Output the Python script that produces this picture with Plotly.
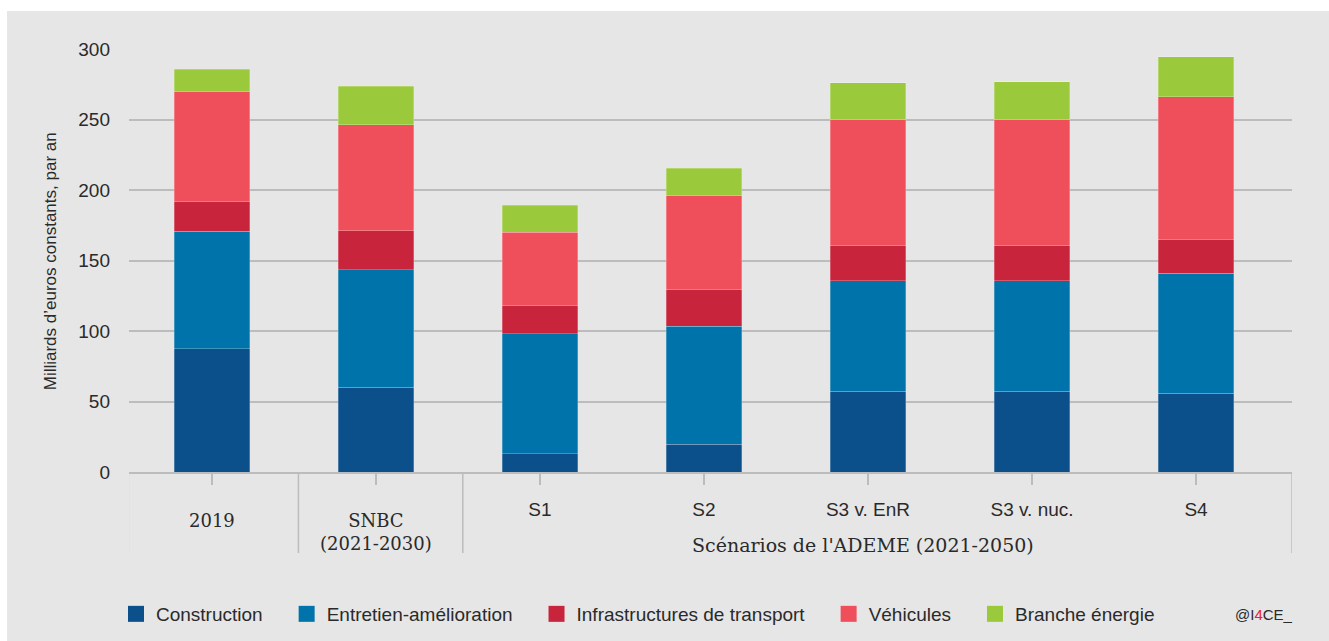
import plotly.graph_objects as go

categories = ["2019", "SNBC", "S1", "S2", "S3 v. EnR", "S3 v. nuc.", "S4"]
tick_labels = ["", "", "S1", "S2", "S3 v. EnR", "S3 v. nuc.", "S4"]

construction = [87.4, 60.1, 13.0, 19.6, 57.2, 57.2, 55.8]
entretien = [83.3, 83.4, 85.1, 83.9, 78.3, 78.3, 85.1]
infrastructures = [21.0, 27.6, 20.1, 25.8, 25.0, 25.0, 24.1]
vehicules = [78.0, 75.2, 52.0, 66.7, 89.4, 89.4, 101.0]
energie = [15.9, 27.2, 18.9, 19.6, 26.0, 26.7, 28.5]

series = [
    ("Construction", construction, "#0b4f8b"),
    ("Entretien-amélioration", entretien, "#0074aa"),
    ("Infrastructures de transport", infrastructures, "#c8243c"),
    ("Véhicules", vehicules, "#ef4f5b"),
    ("Branche énergie", energie, "#9bc93c"),
]

SANS = "Liberation Sans, Arial, sans-serif"
SERIF = "DejaVu Serif, serif"
TXT = "#2a2a2a"
GRID = "#bcbcbc"
PAD = "\u2002\u2002"

fig = go.Figure()
for i, (name, vals, col) in enumerate(series):
    fig.add_trace(go.Bar(
        x=categories, y=vals, name=name,
        marker=dict(color=col, line=dict(color="rgba(255,255,255,0.3)", width=0.8)),
        showlegend=False,
    ))
    # legend proxy with larger square symbol
    label = name + (PAD if i < len(series) - 1 else "")
    fig.add_trace(go.Scatter(
        x=[None], y=[None], mode="markers", name=label,
        marker=dict(symbol="square", size=16, color=col),
        showlegend=True,
    ))

shapes = [
    dict(type="rect", xref="paper", yref="paper", x0=-0.1049, x1=1.05, y0=-0.45, y1=1.0898,
         fillcolor="#e6e6e6", line=dict(width=0), layer="below"),
]
for xd in [-0.509, 0.528, 1.530, 6.585]:
    shapes.append(dict(type="line", xref="x", yref="paper", x0=xd, x1=xd, y0=0, y1=-0.1915,
                       line=dict(color=GRID, width=1.5), layer="below"))

annotations = [
    dict(text="2019", x=0, xref="x", y=-0.1135, yref="paper", showarrow=False,
         xanchor="center", yanchor="middle", font=dict(family=SERIF, size=18, color=TXT)),
    dict(text="SNBC<br>(2021-2030)", x=1, xref="x", y=-0.1407, yref="paper", showarrow=False,
         xanchor="center", yanchor="middle", font=dict(family=SERIF, size=18, color=TXT)),
    dict(text="Scénarios de l'ADEME (2021-2050)", x=3.97, xref="x", y=-0.1726, yref="paper",
         showarrow=False, xanchor="center", yanchor="middle",
         font=dict(family=SERIF, size=19, color=TXT)),
    dict(text="Milliards d’euros constants, par an", x=-0.0680, xref="paper", y=0.498, yref="paper",
         textangle=-90, showarrow=False, xanchor="center", yanchor="middle",
         font=dict(family=SANS, size=17, color=TXT)),
    dict(text="@I<span style='color:#e8202a'>4</span>CE_", x=1.003, xref="paper", y=-0.3357,
         yref="paper", showarrow=False, xanchor="right", yanchor="middle",
         font=dict(family=SANS, size=15, color=TXT)),
]

fig.update_layout(
    width=1329, height=641,
    margin=dict(l=129, r=37, t=49, b=169, autoexpand=False),
    paper_bgcolor="white", plot_bgcolor="#e6e6e6",
    barmode="stack", bargap=0.539,
    font=dict(family=SANS, size=18, color=TXT),
    shapes=shapes, annotations=annotations,
    legend=dict(orientation="h", x=-0.0112, xanchor="left", y=-0.3357, yanchor="middle",
                bgcolor="rgba(0,0,0,0)", font=dict(family=SANS, size=19, color=TXT),
                traceorder="normal"),
    xaxis=dict(
        range=[-0.505, 6.585], tickmode="array", tickvals=categories, ticktext=tick_labels,
        ticks="outside", ticklen=11, tickwidth=1.5, tickcolor=GRID,
        showline=True, linecolor=GRID, linewidth=1.5, showgrid=False,
        ticklabelstandoff=8, tickfont=dict(family=SANS, size=19, color=TXT),
    ),
    yaxis=dict(
        range=[0, 300], tickvals=[0, 50, 100, 150, 200, 250, 300],
        showgrid=True, gridcolor=GRID, gridwidth=1.5, zeroline=False,
        ticks="", ticklabelstandoff=18, tickfont=dict(family=SANS, size=19, color=TXT),
    ),
)

fig.write_html("out.html")
